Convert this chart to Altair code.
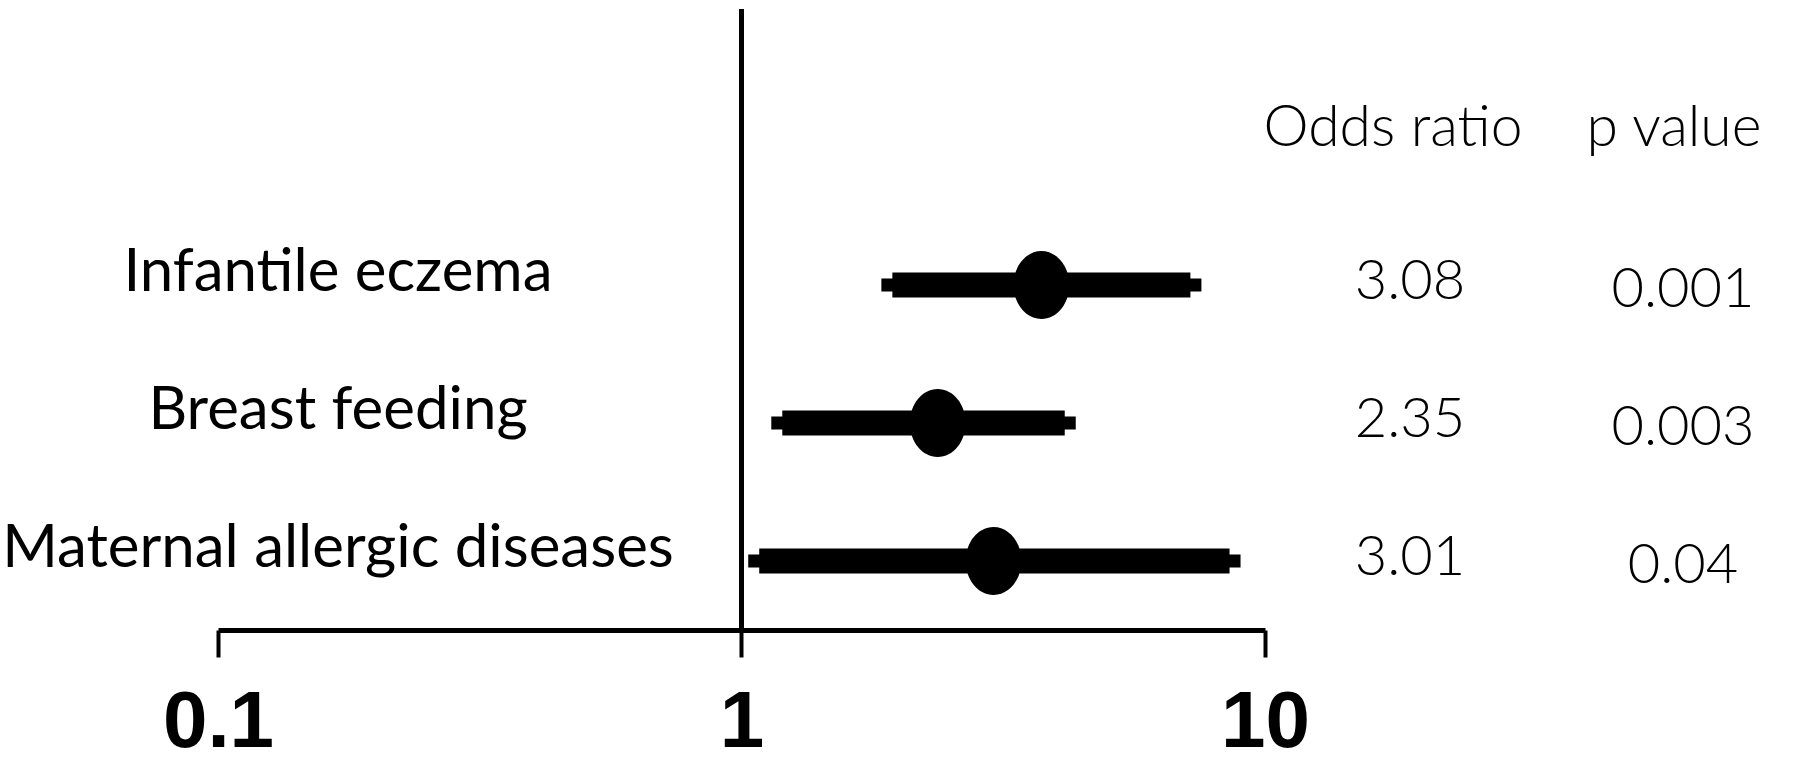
import altair as alt
import pandas as pd

factors = ["Infantile eczema", "Breast feeding", "Maternal allergic diseases"]
or_point = [3.74, 2.37, 3.03]
ci_low = [1.85, 1.14, 1.03]
ci_high = [7.56, 4.35, 8.98]
or_text = ["3.08", "2.35", "3.01"]
p_text = ["0.001", "0.003", "0.04"]
tick_values = [0.1, 1, 10]

df = pd.DataFrame({
    "factor": factors, "or": or_point, "lo": ci_low, "hi": ci_high,
    "or_txt": or_text, "p_txt": p_text,
})

W, H = 1047, 621
xscale = alt.Scale(type="log", domain=[0.1, 10])
yscale = alt.Scale(type="band", domain=factors, paddingInner=0, paddingOuter=0.75, align=1)

base = alt.Chart(df)

x_enc = alt.X("lo:Q", scale=xscale,
              axis=alt.Axis(values=tick_values, format="~g", title=None, grid=False,
                            domainColor="black", domainWidth=5, tickColor="black",
                            tickWidth=4, tickSize=27, labelFont="Liberation Sans",
                            labelFontWeight="bold", labelFontSize=80, labelColor="black",
                            labelPadding=26, labelFlush=False))


def yenc():
    return alt.Y("factor:N", scale=yscale, axis=None)


thin = base.mark_rule(color="black", strokeWidth=13, strokeCap="butt").encode(
    x=x_enc, x2="hi:Q", y=yenc())
thick = base.mark_rule(color="black", strokeWidth=25, strokeCap="butt",
                       xOffset=11, x2Offset=-11).encode(
    x=alt.X("lo:Q", scale=xscale), x2="hi:Q", y=yenc())

ellipse = "M -0.82 0 A 0.82 1 0 1 0 0.82 0 A 0.82 1 0 1 0 -0.82 0 Z"
pts = base.mark_point(shape=ellipse, filled=True, color="black", opacity=1, size=4624).encode(
    x=alt.X("or:Q", scale=xscale), y=yenc())

vline = alt.Chart(pd.DataFrame({"v": [1]})).mark_rule(color="black", strokeWidth=5).encode(
    x=alt.X("v:Q", scale=xscale), y=alt.value(0), y2=alt.value(H))

labels = base.mark_text(font="Lato", fontSize=60, color="black", align="center",
                        baseline="middle", dy=-12).encode(
    x=alt.value(120), y=yenc(), text="factor:N")

or_vals = base.mark_text(font="Lato", fontWeight=300, fontSize=56, color="black",
                         align="center", baseline="middle", dy=-3).encode(
    x=alt.value(1192), y=yenc(), text="or_txt:N")
p_vals = base.mark_text(font="Lato", fontWeight=300, fontSize=56, color="black",
                        align="center", baseline="middle", dy=5).encode(
    x=alt.value(1465), y=yenc(), text="p_txt:N")

hdr_df = pd.DataFrame({"h": ["Odds ratio", "p value"], "pos": ["or", "p"]})
hdr_or = alt.Chart(hdr_df).transform_filter("datum.pos == 'or'").mark_text(
    font="Lato", fontWeight=300, fontSize=57, color="black", align="center",
    baseline="middle").encode(x=alt.value(1175), y=alt.value(120), text="h:N")
hdr_p = alt.Chart(hdr_df).transform_filter("datum.pos == 'p'").mark_text(
    font="Lato", fontWeight=300, fontSize=57, color="black", align="center",
    baseline="middle").encode(x=alt.value(1456), y=alt.value(120), text="h:N")

chart = alt.layer(thin, thick, vline, pts, labels, or_vals, p_vals, hdr_or, hdr_p).properties(
    width=W, height=H, autosize="none",
    padding={"left": 218, "top": 9, "right": 535, "bottom": 134},
    background="white",
).configure_view(strokeWidth=0)

chart.save("out.html", embed_options={"renderer": "svg", "actions": False})
